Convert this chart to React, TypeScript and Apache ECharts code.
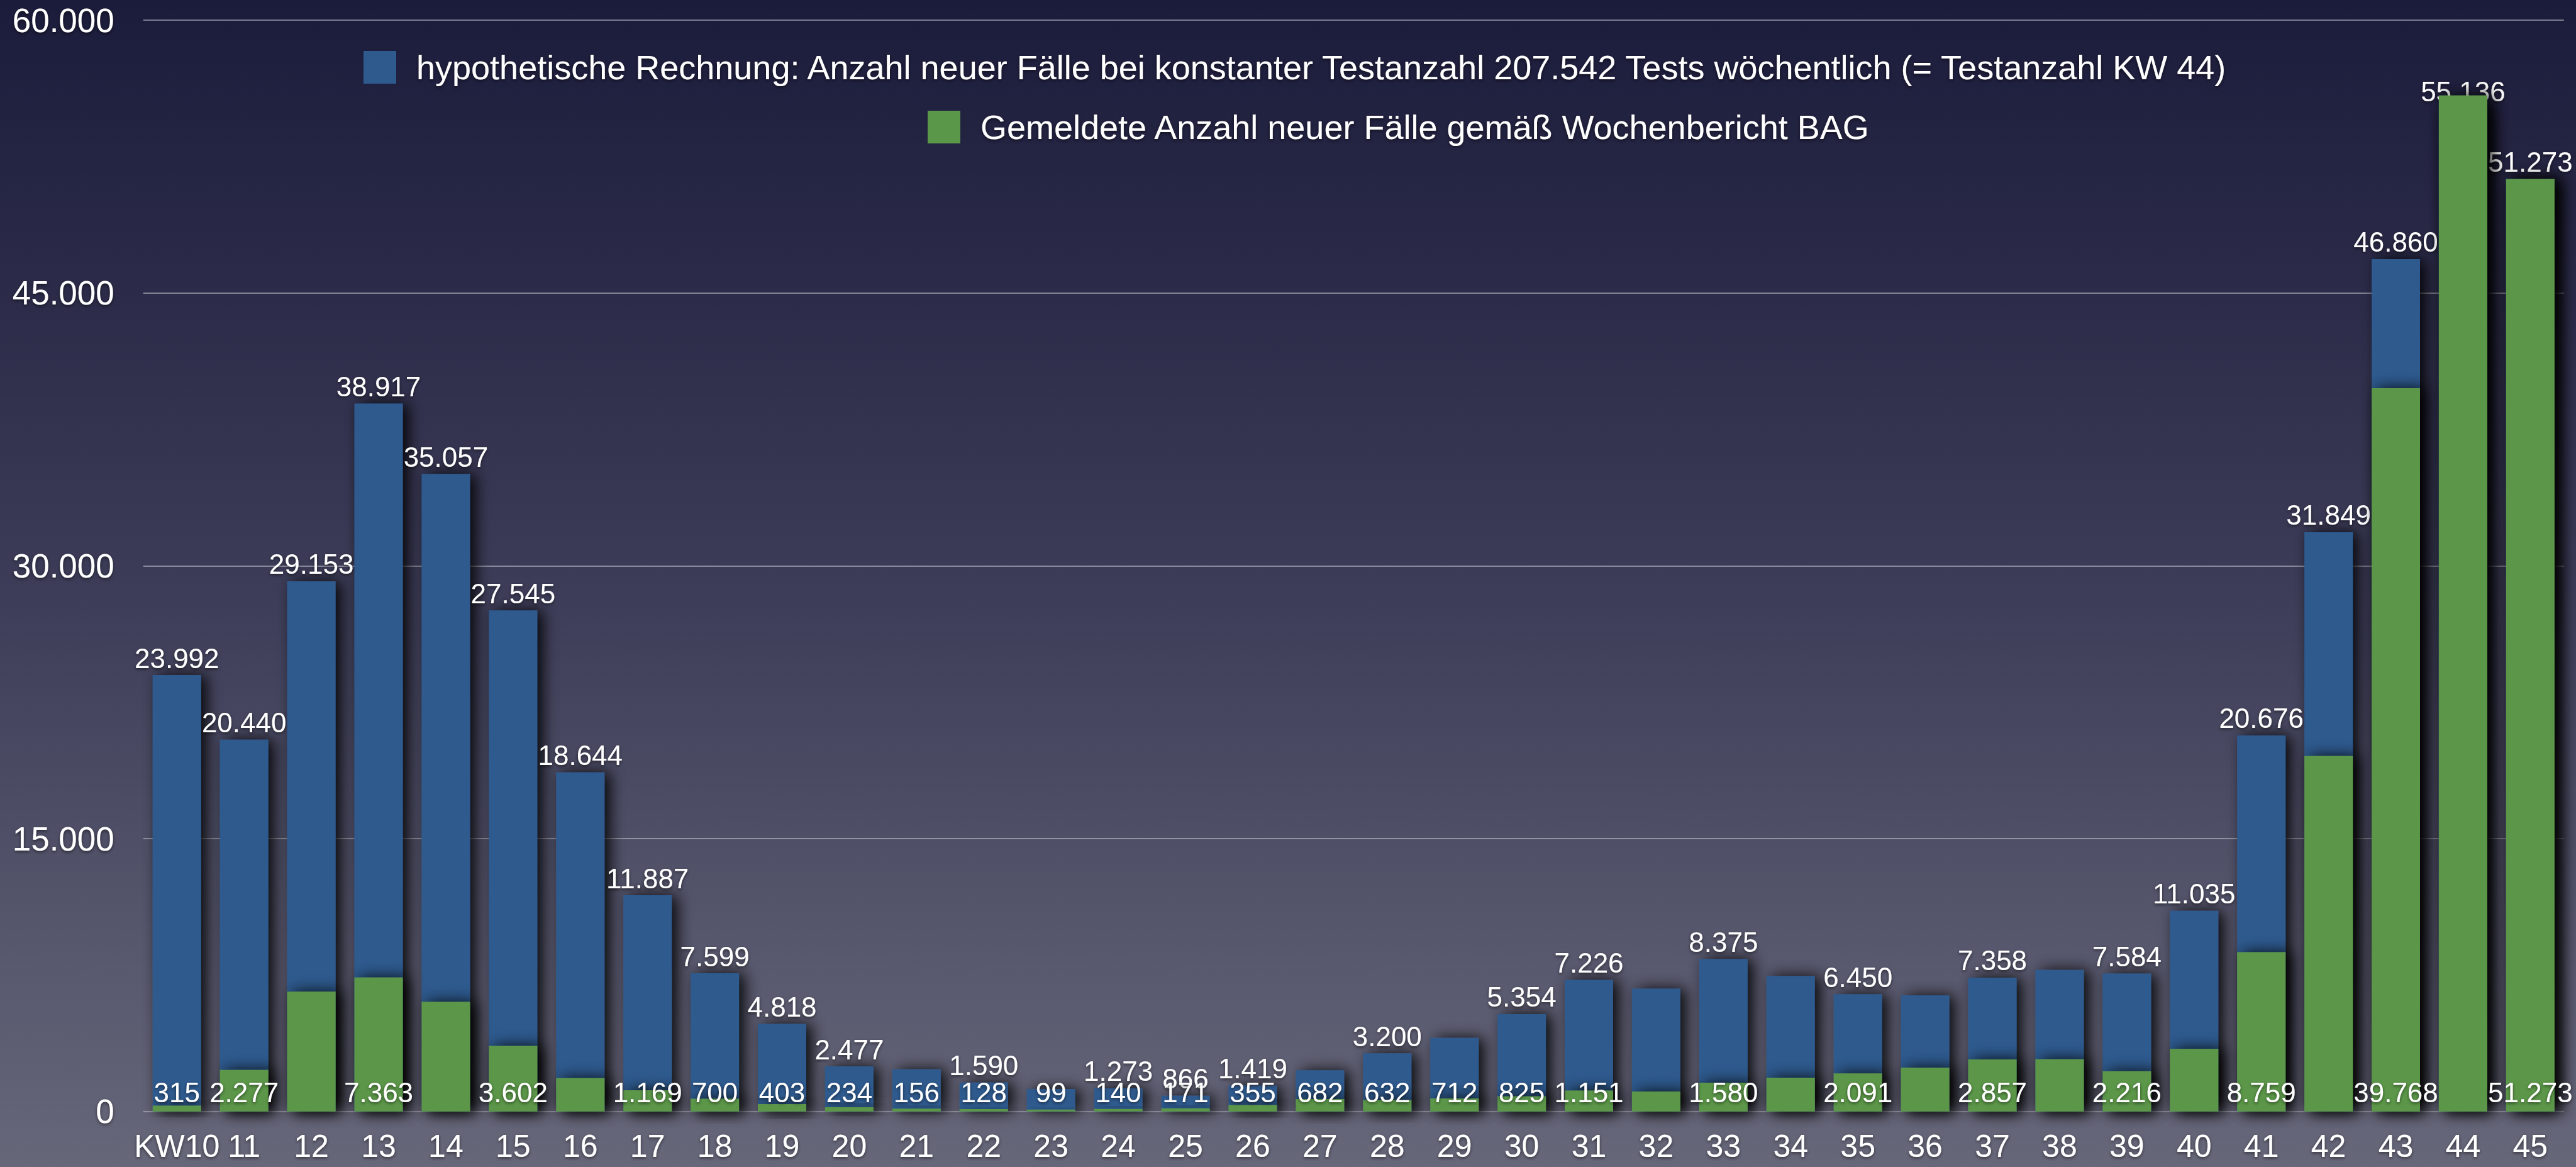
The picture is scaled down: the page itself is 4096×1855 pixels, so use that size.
import React, { useEffect, useRef } from 'react';
import * as echarts from 'echarts';

const categories = ['KW10', '11', '12', '13', '14', '15', '16', '17', '18', '19', '20', '21', '22', '23', '24', '25', '26', '27', '28', '29', '30', '31', '32', '33', '34', '35', '36', '37', '38', '39', '40', '41', '42', '43', '44', '45'];

const hypothetical = [23992, 20440, 29153, 38917, 35057, 27545, 18644, 11887, 7599, 4818, 2477, 2320, 1590, 1235, 1273, 866, 1419, 2260, 3200, 4045, 5354, 7226, 6750, 8375, 7450, 6450, 6380, 7358, 7780, 7584, 11035, 20676, 31849, 46860, 55136, 51273];

const reported = [315, 2277, 6585, 7363, 6027, 3602, 1830, 1169, 700, 403, 234, 156, 128, 99, 140, 171, 355, 682, 632, 712, 825, 1151, 1100, 1580, 1860, 2091, 2410, 2857, 2870, 2216, 3440, 8759, 19540, 39768, 55860, 51273];

const hiddenHypotheticalLabels = [11, 13, 17, 19, 22, 24, 26, 28];
const hiddenReportedLabels = [2, 4, 6, 22, 24, 26, 28, 30, 32, 34];

const seriesNames = [
  'hypothetische Rechnung: Anzahl neuer Fälle bei konstanter Testanzahl 207.542 Tests wöchentlich (= Testanzahl KW 44)',
  'Gemeldete Anzahl neuer Fälle gemäß Wochenbericht BAG',
];

const yMin = 0;
const yMax = 60000;
const yInterval = 15000;

const FONT = "'Liberation Sans', Arial, Helvetica, sans-serif";
const BLUE = '#2e5a8e';
const GREEN = '#5b9749';

const fmt = (v: number) => String(Math.round(v)).replace(/\B(?=(\d{3})+(?!\d))/g, '.');

const textShadow = {
  textShadowColor: 'rgba(0,0,0,0.55)',
  textShadowBlur: 5,
  textShadowOffsetY: 2,
};

export default function App() {
  const ref = useRef<HTMLDivElement>(null);

  useEffect(() => {
    document.body.style.margin = '0';
    if (!ref.current) return;
    const chart = echarts.init(ref.current, null, { renderer: 'svg' });

    const barShadow = {
      shadowBlur: 24,
      shadowColor: 'rgba(0,0,0,0.9)',
      shadowOffsetX: 9,
      shadowOffsetY: 0,
    };

    const legendCommon = {
      orient: 'horizontal',
      icon: 'rect',
      itemWidth: 52,
      itemHeight: 52,
      selectedMode: false,
      itemStyle: { shadowBlur: 0, shadowOffsetX: 0 },
      textStyle: {
        color: '#ffffff',
        fontSize: 54,
        fontFamily: FONT,
        lineHeight: 52,
        padding: [0, 0, 0, 27],
        ...textShadow,
      },
    };

    const option: any = {
      animation: false,
      backgroundColor: 'transparent',
      legend: [
        { ...legendCommon, data: [seriesNames[0]], left: 573, top: 75 },
        { ...legendCommon, data: [seriesNames[1]], left: 1470, top: 170 },
      ],
      grid: { left: 227.8, right: 19.2, top: 32.1, bottom: 88.3, containLabel: false },
      xAxis: {
        type: 'category',
        data: categories,
        axisTick: { show: false },
        axisLine: {
          show: true,
          lineStyle: {
            color: '#c0c0c8',
            width: 3,
            shadowBlur: 10,
            shadowColor: 'rgba(0,0,0,0.5)',
            shadowOffsetY: 4,
          },
        },
        axisLabel: {
          color: '#ffffff',
          fontSize: 50,
          fontFamily: FONT,
          margin: 30,
          interval: 0,
          ...textShadow,
        },
      },
      yAxis: {
        type: 'value',
        min: yMin,
        max: yMax,
        interval: yInterval,
        axisLine: { show: false },
        axisTick: { show: false },
        splitLine: { lineStyle: { color: 'rgba(190,190,200,0.8)', width: 1.6 } },
        axisLabel: {
          color: '#ffffff',
          fontSize: 53,
          fontFamily: FONT,
          margin: 46,
          formatter: (v: number) => fmt(v),
          ...textShadow,
        },
      },
      series: [
        {
          name: seriesNames[0],
          type: 'bar',
          barWidth: '72%',
          barGap: '-100%',
          z: 2,
          itemStyle: { color: BLUE, ...barShadow },
          label: {
            show: true,
            position: 'top',
            distance: 5,
            color: '#ffffff',
            fontSize: 44,
            fontFamily: FONT,
            formatter: (p: any) => fmt(p.value),
            ...textShadow,
          },
          data: hypothetical.map((v, i) => ({
            value: v,
            label: { show: !hiddenHypotheticalLabels.includes(i) },
          })),
        },
        {
          name: seriesNames[1],
          type: 'bar',
          barWidth: '72%',
          barGap: '-100%',
          z: 3,
          itemStyle: { color: GREEN, ...barShadow },
          label: {
            show: true,
            position: 'insideBottom',
            distance: 8,
            color: '#ffffff',
            fontSize: 44,
            fontFamily: FONT,
            formatter: (p: any) => fmt(p.value),
            ...textShadow,
          },
          data: reported.map((v, i) => ({
            value: v,
            label: { show: !hiddenReportedLabels.includes(i) },
          })),
        },
      ],
    };

    chart.setOption(option);
    return () => chart.dispose();
  }, []);

  return (
    <div
      ref={ref}
      style={{
        position: 'fixed',
        left: 0,
        top: 0,
        width: 4096,
        height: 1855,
        background: 'linear-gradient(to bottom, #1b1b3b 0%, #3c3c58 50%, #67677a 100%)',
      }}
    />
  );
}
